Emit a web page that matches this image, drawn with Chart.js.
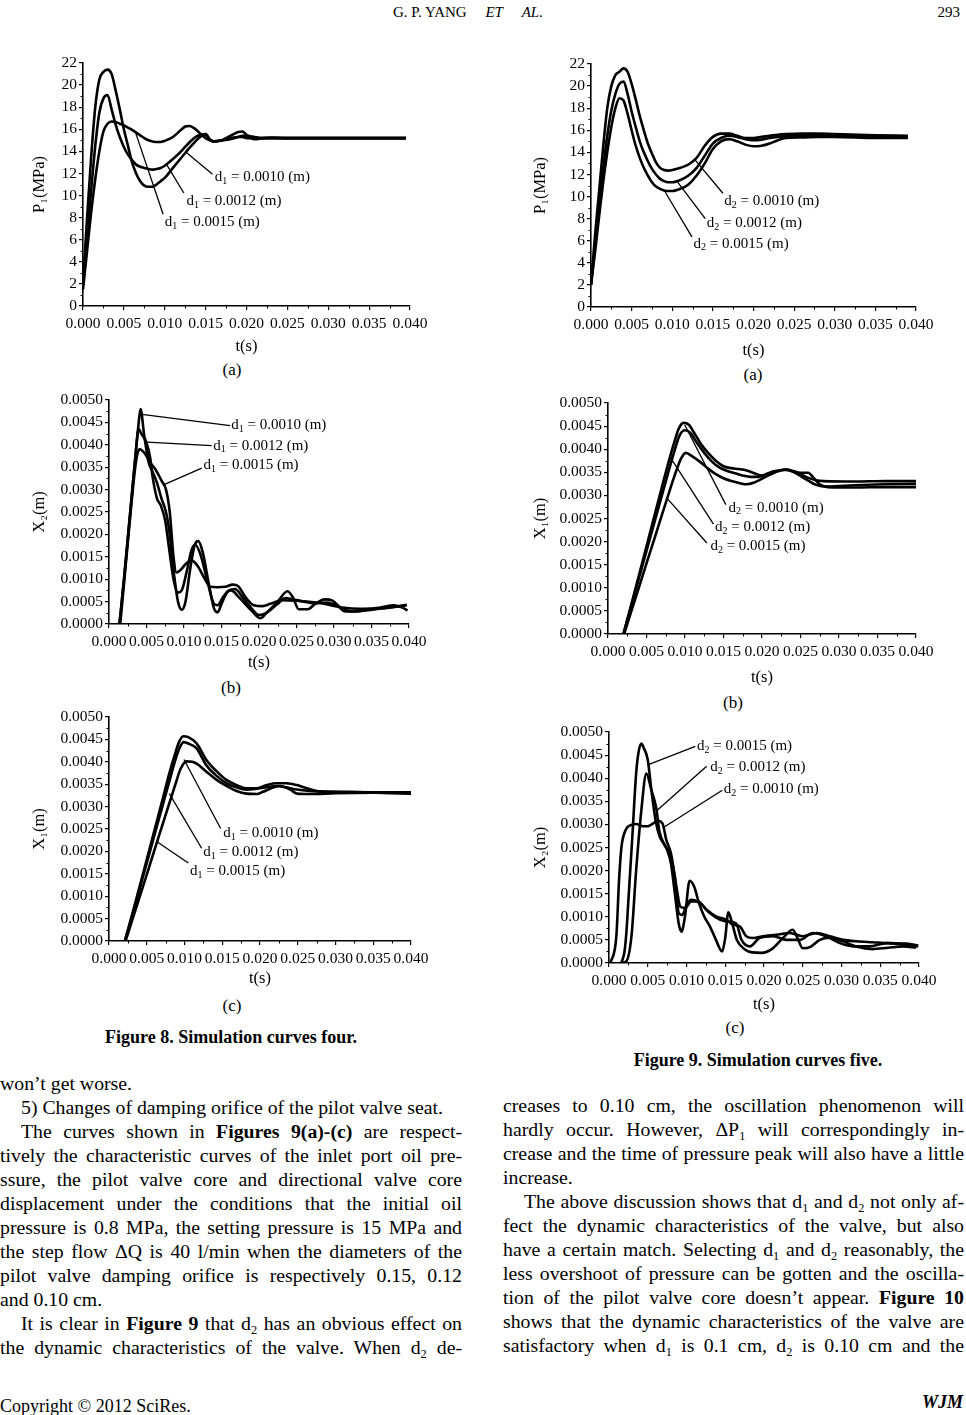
<!DOCTYPE html>
<html><head><meta charset="utf-8">
<script src="https://cdn.jsdelivr.net/npm/chart.js@4.4.1/dist/chart.umd.min.js"></script>
<style>
html,body{margin:0;padding:0;background:#fff;}
body{width:966px;height:1415px;position:relative;overflow:hidden;font-family:'Liberation Serif','Times New Roman',serif;color:#000;}
canvas.ch{position:absolute;}
.abs{position:absolute;white-space:nowrap;line-height:1.15;}
.ctr{transform:translate(-50%,-50%);}
.sl{font-size:17px;}
.cap{font-size:18px;font-weight:bold;}
.col{position:absolute;font-size:19.8px;line-height:24px;}
.ln{height:24px;white-space:nowrap;}
.j{text-align:justify;text-align-last:justify;}
.ind{padding-left:21px;}
sub{font-size:0.62em;vertical-align:-0.3em;line-height:0;}
</style></head>
<body>
<div class="abs" style="left:393px;top:4px;font-size:15px;">G. P. YANG&nbsp;&nbsp;&nbsp;&nbsp; <i>ET</i>&nbsp;&nbsp;&nbsp;&nbsp; <i>AL.</i></div>
<div class="abs" style="right:6px;top:4px;font-size:15px;">293</div>

<canvas id="c8a" class="ch"></canvas>
<canvas id="c9a" class="ch"></canvas>
<canvas id="c8b" class="ch"></canvas>
<canvas id="c9b" class="ch"></canvas>
<canvas id="c8c" class="ch"></canvas>
<canvas id="c9c" class="ch"></canvas>

<div class="abs ctr sl" style="left:232px;top:370px;">(a)</div>
<div class="abs ctr sl" style="left:753px;top:375px;">(a)</div>
<div class="abs ctr sl" style="left:231px;top:688px;">(b)</div>
<div class="abs ctr sl" style="left:733px;top:703px;">(b)</div>
<div class="abs ctr sl" style="left:232px;top:1006px;">(c)</div>
<div class="abs ctr sl" style="left:735px;top:1028px;">(c)</div>
<div class="abs ctr cap" style="left:231px;top:1037px;">Figure 8. Simulation curves four.</div>
<div class="abs ctr cap" style="left:758px;top:1060px;">Figure 9. Simulation curves five.</div>

<div class="col" style="left:0;top:1071px;width:462px;">
<div class="ln">won’t get worse.</div>
<div class="ln ind">5) Changes of damping orifice of the pilot valve seat.</div>
<div class="ln ind j">The curves shown in <b>Figures 9(a)-(c)</b> are respect-</div>
<div class="ln j">tively the characteristic curves of the inlet port oil pre-</div>
<div class="ln j">ssure, the pilot valve core and directional valve core</div>
<div class="ln j">displacement under the conditions that the initial oil</div>
<div class="ln j">pressure is 0.8 MPa, the setting pressure is 15 MPa and</div>
<div class="ln j">the step flow ΔQ is 40 l/min when the diameters of the</div>
<div class="ln j">pilot valve damping orifice is respectively 0.15, 0.12</div>
<div class="ln">and 0.10 cm.</div>
<div class="ln ind j">It is clear in <b>Figure 9</b> that d<sub>2</sub> has an obvious effect on</div>
<div class="ln j">the dynamic characteristics of the valve. When d<sub>2</sub> de-</div>
</div>

<div class="col" style="left:503px;top:1093px;width:461px;">
<div class="ln j">creases to 0.10 cm, the oscillation phenomenon will</div>
<div class="ln j">hardly occur. However, ΔP<sub>1</sub> will correspondingly in-</div>
<div class="ln j">crease and the time of pressure peak will also have a little</div>
<div class="ln">increase.</div>
<div class="ln ind j">The above discussion shows that d<sub>1</sub> and d<sub>2</sub> not only af-</div>
<div class="ln j">fect the dynamic characteristics of the valve, but also</div>
<div class="ln j">have a certain match. Selecting d<sub>1</sub> and d<sub>2</sub> reasonably, the</div>
<div class="ln j">less overshoot of pressure can be gotten and the oscilla-</div>
<div class="ln j">tion of the pilot valve core doesn’t appear. <b>Figure 10</b></div>
<div class="ln j">shows that the dynamic characteristics of the valve are</div>
<div class="ln j">satisfactory when d<sub>1</sub> is 0.1 cm, d<sub>2</sub> is 0.10 cm and the</div>
</div>

<div class="abs" style="left:0;top:1396px;font-size:18px;">Copyright © 2012 SciRes.</div>
<div class="abs" style="right:3px;top:1392px;font-size:18px;font-weight:bold;font-style:italic;">WJM</div>

<script>
// ---------------- axis ticks ----------------
const tAxisTicks = [0, 0.005, 0.010, 0.015, 0.020, 0.025, 0.030, 0.035, 0.040];
const pAxisTicks = [0, 2, 4, 6, 8, 10, 12, 14, 16, 18, 20, 22];
const xAxisTicks = [0, 0.0005, 0.0010, 0.0015, 0.0020, 0.0025, 0.0030, 0.0035, 0.0040, 0.0045, 0.0050];

// ---------------- Figure 8(a): P1 (MPa) vs t (ms) ----------------
const f8a_t = [0, 0.5, 1, 1.5, 2, 2.5, 3, 3.5, 4, 4.5, 5, 5.5, 6, 6.5, 7, 7.5, 8, 8.5, 9, 9.5, 10, 11, 12, 12.5, 13, 13.5, 14, 14.5, 15, 15.5, 16, 17, 18, 19, 19.5, 20, 21, 22, 23, 25, 30, 35, 39.5];
const f8a_d0010 = [2.0, 8, 13.5, 18, 20.5, 21.2, 21.4, 21.0, 19.5, 17.8, 16.0, 14.5, 13.0, 12.0, 11.3, 10.9, 10.8, 10.8, 11.0, 11.3, 11.6, 12.5, 13.4, 13.85, 14.3, 14.7, 15.1, 15.4, 15.6, 15.1, 14.9, 15.0, 15.2, 15.3, 15.3, 15.2, 15.2, 15.2, 15.2, 15.2, 15.2, 15.2, 15.2];
const f8a_d0012 = [2.0, 6.5, 10.5, 14.5, 17.5, 18.8, 19.1, 17.8, 16.4, 15.3, 14.4, 13.7, 13.2, 12.8, 12.6, 12.5, 12.4, 12.35, 12.4, 12.5, 12.7, 13.3, 14.0, 14.4, 14.8, 15.15, 15.4, 15.55, 15.5, 15.1, 14.9, 15.0, 15.1, 15.3, 15.4, 15.4, 15.3, 15.2, 15.2, 15.2, 15.2, 15.2, 15.2];
const f8a_d0015 = [1.5, 5, 8.5, 11.5, 14.0, 15.8, 16.5, 16.7, 16.65, 16.5, 16.35, 16.15, 15.95, 15.7, 15.45, 15.2, 15.0, 14.9, 14.85, 14.85, 14.95, 15.3, 15.95, 16.25, 16.3, 16.15, 15.85, 15.5, 15.2, 15.0, 14.9, 15.0, 15.4, 15.75, 15.8, 15.5, 15.1, 15.2, 15.25, 15.2, 15.2, 15.2, 15.2];
// leader notes: [sub, value, t1, v1, t2, v2, textT, textV]
const f8a_notes = [
  ['1', '0.0010', 12.65, 13.9, 15.84, 11.92, 16.12, 11.68],
  ['1', '0.0012', 10.2, 12.85, 12.33, 10.23, 12.65, 9.5],
  ['1', '0.0015', 6.45, 15.65, 9.8, 8.3, 10.0, 7.6]
];

// ---------------- Figure 9(a): P1 (MPa) vs t (ms) ----------------
const f9a_t = [0, 0.5, 1, 1.5, 2, 2.5, 3, 3.5, 4, 4.5, 5, 5.5, 6, 6.5, 7, 7.5, 8, 8.5, 9, 9.5, 10, 11, 12, 13, 14, 15, 16, 17, 18, 19, 20, 21, 22, 23, 24, 26, 28, 30, 35, 39];
const f9a_d0010 = [2.0, 6.5, 10.5, 14.5, 18.0, 20.0, 21.0, 21.3, 21.6, 21.3, 20.2, 18.8, 17.3, 16.0, 14.8, 13.9, 13.1, 12.6, 12.4, 12.35, 12.4, 12.6, 12.9, 13.5, 14.6, 15.4, 15.7, 15.7, 15.5, 15.3, 15.3, 15.4, 15.5, 15.6, 15.65, 15.7, 15.7, 15.65, 15.55, 15.5];
const f9a_d0012 = [2.0, 5.5, 9.0, 12.5, 15.5, 17.8, 19.3, 20.2, 20.4, 19.3, 17.7, 16.3, 15.0, 14.0, 13.2, 12.5, 12.0, 11.6, 11.4, 11.3, 11.3, 11.5, 11.9, 12.6, 13.7, 14.8, 15.3, 15.5, 15.4, 15.2, 15.1, 15.15, 15.3, 15.4, 15.45, 15.5, 15.5, 15.5, 15.45, 15.4];
const f9a_d0015 = [2.0, 5.0, 8.2, 11.3, 14.0, 16.3, 18.0, 18.9, 18.7, 17.5, 16.0, 14.6, 13.5, 12.6, 11.9, 11.3, 10.9, 10.7, 10.55, 10.5, 10.5, 10.7, 11.1, 11.9, 13.0, 14.3, 15.0, 15.2, 15.0, 14.7, 14.55, 14.6, 14.8, 15.1, 15.3, 15.35, 15.4, 15.4, 15.3, 15.3];
const f9a_notes = [
  ['2', '0.0010', 12.83, 13.3, 16.23, 10.3, 16.39, 9.6],
  ['2', '0.0012', 10.57, 11.4, 14.06, 8.0, 14.26, 7.6],
  ['2', '0.0015', 9.02, 10.55, 12.42, 6.35, 12.62, 5.74]
];

// ---------------- Figure 8(b): X2 (x1e-4 m) vs t (ms) ----------------
const f8b_t0010 = [1.4, 2.0, 2.5, 3.0, 3.5, 3.9, 4.2, 4.7, 5.3, 5.8, 6.4, 7.0, 7.6, 8.1, 8.6, 9.2, 9.7, 10.2, 10.8, 11.4, 11.9, 12.5, 13.3, 14.0, 14.5, 15.0, 15.8, 16.3, 17.3, 19.0, 20.2, 21.0, 22.5, 23.8, 24.5, 25.3, 26.5, 27.5, 28.8, 29.8, 31.0, 32.5, 34.0, 36.0, 38.0, 39.7];
const f8b_v0010 = [0, 10, 19, 28, 37, 44, 48, 42, 36, 34, 31.5, 28, 25, 20, 12, 5, 3.2, 5, 12, 17.5, 18.5, 16, 9, 3.5, 2.6, 4.5, 7.2, 7.5, 6, 3, 1.3, 2.5, 5, 7.3, 6, 3.3, 3.3, 4.5, 5.5, 5.2, 3.5, 2.8, 3.0, 3.4, 3.8, 4.3];
const f8b_t0012 = [1.4, 2.0, 2.5, 3.0, 3.5, 3.95, 4.3, 5.0, 5.5, 5.8, 6.4, 6.9, 7.5, 8.0, 8.6, 9.2, 9.7, 10.4, 11.0, 11.5, 12.2, 13.2, 14.0, 14.5, 15.2, 16.0, 16.8, 17.8, 19.0, 20.0, 21.0, 22.5, 23.5, 24.5, 26.0, 27.5, 29.0, 30.5, 31.5, 33.0, 35.0, 37.0, 39.7];
const f8b_v0012 = [0, 10, 19, 28, 37, 43.5, 42.5, 40.5, 37, 33, 28, 26.5, 23, 17, 10, 7, 7.5, 12, 16.5, 17.7, 15.5, 9, 4.5, 4.2, 6, 7.5, 7.8, 6, 3.5, 2.0, 2.5, 4.5, 5.8, 5.5, 5.0, 4.6, 4.8, 4.0, 2.8, 2.8, 3.3, 3.6, 4.2];
const f8b_t0015 = [1.5, 2.0, 2.5, 3.0, 3.5, 3.8, 4.1, 4.8, 5.5, 6.2, 7.0, 7.6, 8.1, 8.6, 9.0, 9.5, 10.3, 11.0, 11.8, 12.8, 13.5, 14.5, 15.5, 16.5, 17.2, 18.2, 19.3, 20.5, 21.5, 23.0, 25.0, 27.0, 28.5, 30.0, 32.0, 34.0, 36.0, 38.0, 39.2, 39.8];
const f8b_v0015 = [0, 9, 18, 27, 35, 38, 39, 38, 36, 34.5, 32, 30, 25, 15, 11.5, 12, 13.5, 14.2, 13, 10, 8.3, 8.2, 8.3, 8.8, 8.5, 6, 4.2, 4.0, 4.5, 5.3, 5.2, 4.9, 4.6, 4.0, 3.5, 3.4, 3.6, 4.2, 3.6, 3.0];
const f8b_notes = [
  ['1', '0.0010', 4.39, 46.8, 16.14, 44.3, 16.3, 44.3],
  ['1', '0.0012', 5.06, 40.6, 13.7, 39.8, 13.9, 39.8],
  ['1', '0.0015', 7.27, 31.05, 12.37, 34.8, 12.6, 35.4]
];

// ---------------- Figure 9(b): X1 (x1e-4 m) vs t (ms) ----------------
const f9b_t0010 = [2.0, 3, 4, 5, 6, 7, 8, 8.7, 9.2, 9.8, 10.5, 11.2, 12, 13, 14, 15, 16, 17, 18, 19, 20, 21, 22, 23, 24, 25, 26, 26.7, 27.5, 28.5, 32, 36, 40];
const f9b_v0010 = [0, 6.2, 12.6, 19, 25.4, 31.8, 38, 42, 44.5, 45.7, 45.3, 43.5, 41.3, 39.2, 37.5, 36.3, 35.9, 35.7, 35.4, 34.8, 34.3, 34.5, 35.2, 35.6, 35.3, 34.9, 34.9, 33.8, 32.4, 31.8, 31.7, 31.8, 31.8];
const f9b_t0012 = [2.0, 3, 4, 5, 6, 7, 8, 8.7, 9.3, 10, 10.7, 11.5, 12.5, 13.5, 14.5, 15.5, 16.5, 17.5, 18.5, 19.5, 20.5, 21.5, 22.5, 23.3, 24.2, 25, 26, 27, 28.5, 32, 36, 40];
const f9b_v0012 = [0, 6, 12, 18, 24, 30, 36, 40, 43, 44.1, 43.5, 41.5, 39.2, 37.3, 36.0, 35.3, 34.8, 34.3, 34.0, 34.0, 34.6, 35.2, 35.5, 35.6, 35.0, 34.2, 33.2, 32.3, 31.9, 32.2, 32.4, 32.5];
const f9b_t0015 = [2.1, 3, 4, 5, 6, 7, 8, 8.8, 9.5, 10.1, 11, 12, 13, 14, 15, 16, 17, 18, 19, 20, 21, 22, 23, 24, 25, 26, 27, 28, 32, 36, 40];
const f9b_v0015 = [0, 4.8, 10, 15.3, 20.5, 25.8, 31, 35, 38, 39.2, 38.4, 37.2, 35.8, 34.6, 33.7, 33.1, 32.7, 32.4, 32.8, 33.6, 34.5, 35.2, 35.5, 35.2, 34.6, 33.8, 33.3, 33.1, 33.0, 33.1, 33.1];
const f9b_notes = [
  ['2', '0.0010', 9.95, 45.3, 15.3, 28.0, 15.65, 27.3],
  ['2', '0.0012', 8.3, 37.7, 13.7, 23.8, 13.9, 23.1],
  ['2', '0.0015', 7.65, 29.4, 12.84, 19.7, 13.3, 19.0]
];

// ---------------- Figure 8(c): X1 (x1e-4 m) vs t (ms) ----------------
const f8c_t0010 = [2.1, 3, 4, 5, 6, 7, 8, 8.7, 9.3, 9.85, 10.5, 11.6, 12.9, 14.3, 15.6, 16.9, 18.2, 19.6, 20.9, 22.2, 23.5, 24.9, 26.2, 27.5, 29.3, 33.7, 40];
const f8c_v0010 = [0, 5.5, 11.8, 18.2, 24.6, 31, 37.5, 41.5, 44.5, 45.7, 45.5, 44.1, 40.4, 37.8, 35.9, 34.8, 34.1, 34.1, 34.8, 35.2, 35.2, 34.8, 34.1, 33.5, 33.3, 33.2, 32.9];
const f8c_t0012 = [2.1, 3, 4, 5, 6, 7, 8, 8.8, 9.4, 9.9, 10.6, 11.6, 12.9, 14.3, 15.6, 16.9, 18.2, 19.6, 20.9, 22.2, 23.5, 24.9, 26.6, 30, 35, 40];
const f8c_v0012 = [0, 5.3, 11.3, 17.4, 23.5, 29.6, 35.7, 40.5, 43.3, 44.4, 44, 43.0, 39.2, 36.8, 35.2, 34.3, 33.8, 34.0, 34.3, 34.6, 34.3, 33.8, 33.5, 33.3, 33.2, 33.2];
const f8c_t0015 = [2.2, 3, 4, 5, 6, 7, 8, 8.8, 9.5, 10.3, 11, 11.6, 12.9, 14.3, 15.6, 16.9, 18.2, 19.6, 20.4, 21.8, 22.6, 24.0, 24.9, 26.6, 30, 35, 40];
const f8c_v0015 = [0, 4.3, 9.5, 14.8, 20.2, 25.5, 30.8, 35, 38.5, 40.1, 40, 39.6, 37.8, 35.9, 34.6, 33.5, 32.9, 32.8, 33.3, 34.3, 34.6, 33.8, 32.9, 32.8, 33.0, 33.1, 33.0];
const f8c_notes = [
  ['1', '0.0010', 9.93, 40.5, 14.79, 25.1, 15.14, 24.0],
  ['1', '0.0012', 7.99, 32.9, 12.27, 20.7, 12.49, 19.8],
  ['1', '0.0015', 6.31, 22.2, 10.51, 17.4, 10.73, 15.5]
];

// ---------------- Figure 9(c): X2 (x1e-4 m) vs t (ms) ----------------
const f9c_t0015 = [1.6, 2.0, 2.24, 2.5, 3.0, 3.5, 3.8, 4.17, 4.5, 5.0, 5.5, 6.0, 6.5, 7.0, 7.5, 8.0, 8.5, 9.0, 9.35, 9.8, 10.4, 11.0, 11.6, 12.3, 13.0, 13.8, 14.6, 15.0, 15.4, 15.9, 16.5, 17.5, 18.5, 19.7, 21.0, 22.5, 23.7, 24.3, 25.0, 26.0, 27.2, 28.5, 30, 32, 34, 36, 38, 39.6];
const f9c_v0015 = [0, 2.5, 6.5, 13.5, 27, 41, 45.5, 47.5, 46.5, 44, 37, 31, 27.5, 26, 24.5, 21.5, 15, 8.5, 6.8, 10, 17.8, 16.5, 13, 10, 8, 5, 2.5, 5.5, 11, 8.5, 5, 3, 2.3, 2.2, 3, 5.5, 7.2, 5.5, 3.2, 3.5, 5, 5.5, 4.8, 3.5, 3.0, 3.3, 3.6, 3.3];
const f9c_t0012 = [1.4, 2.2, 2.9, 3.5, 4.17, 4.82, 5.46, 6.1, 6.5, 7.2, 7.8, 8.5, 9.0, 9.46, 10.0, 10.6, 11.7, 13.0, 14.3, 15.1, 16.4, 17.1, 18.2, 19.4, 21.2, 22.9, 24.6, 26.3, 28.0, 29.8, 31.5, 33.6, 35.8, 37.9, 39.9];
const f9c_v0012 = [0, 0.3, 5.8, 20, 33, 41, 37.5, 33.5, 28.5, 25.5, 23.7, 18.7, 10.8, 10.4, 12.6, 13.7, 13, 10.8, 9.4, 9.0, 8.6, 5, 3.6, 5.4, 5.8, 5, 5, 6.5, 5.8, 4.3, 3.6, 3.6, 4.3, 4.0, 3.6];
const f9c_t0010 = [0.2, 0.95, 1.3, 1.6, 2.15, 2.9, 3.5, 4.4, 5.0, 5.7, 6.3, 6.9, 7.4, 8.0, 8.7, 9.2, 9.8, 10.6, 11.5, 12.6, 13.8, 15.1, 16.0, 16.9, 17.7, 18.6, 19.9, 21.6, 23.3, 25.0, 26.8, 28.5, 30.2, 31.9, 34.0, 36.2, 38.4, 39.9];
const f9c_v0010 = [0, 5.8, 18, 25, 28.8, 29.9, 30.1, 29.6, 29.6, 30.2, 30.8, 30.2, 26.6, 23.7, 16.5, 12.2, 11.9, 13.3, 13.3, 11.5, 10.1, 9.4, 8.3, 7.9, 5.8, 5.4, 5.8, 6.1, 6.5, 5.8, 6.5, 5.8, 5.0, 4.7, 4.5, 4.3, 4.2, 3.8];
const f9c_notes = [
  ['2', '0.0015', 5.16, 43.0, 11.14, 46.9, 11.35, 46.9],
  ['2', '0.0012', 6.19, 33.0, 12.6, 42.6, 13.08, 42.4],
  ['2', '0.0010', 7.18, 29.5, 14.62, 37.4, 14.8, 37.6]
];

// ---------------- layout (page pixels) ----------------
const LAY = {
  c8a: {left: 30, plotL: 83, plotR: 410, plotT: 63, plotB: 306, xAxisH: 51},
  c9a: {left: 531, plotL: 591, plotR: 916, plotT: 64, plotB: 307, xAxisH: 54},
  c8b: {left: 30, plotL: 109, plotR: 409, plotT: 400, plotB: 624, xAxisH: 49},
  c9b: {left: 531, plotL: 608, plotR: 916, plotT: 403, plotB: 634, xAxisH: 54},
  c8c: {left: 30, plotL: 109, plotR: 411, plotT: 717, plotB: 941, xAxisH: 48},
  c9c: {left: 531, plotL: 609, plotR: 919, plotT: 732, plotB: 963, xAxisH: 52}
};

const FONT = "'Liberation Serif','Times New Roman',serif";
Chart.defaults.font.family = FONT;
Chart.defaults.color = '#000';

function pts(t, v, k) { return t.map((ti, i) => ({x: ti / 1000, y: v[i] * k})); }

const minorTicks = {
  id: 'minorTicks',
  afterDraw(chart) {
    const {ctx} = chart; const xs = chart.scales.x, ys = chart.scales.y;
    const xt = xs.ticks.map(t => t.value), yt = ys.ticks.map(t => t.value);
    ctx.save(); ctx.strokeStyle = '#000'; ctx.lineWidth = 1; ctx.beginPath();
    for (let i = 0; i < xt.length - 1; i++) {
      const p = Math.round(xs.getPixelForValue((xt[i] + xt[i + 1]) / 2)) + 0.5;
      ctx.moveTo(p, xs.top); ctx.lineTo(p, xs.top + 2.5);
    }
    for (let i = 0; i < yt.length - 1; i++) {
      const p = Math.round(ys.getPixelForValue((yt[i] + yt[i + 1]) / 2)) + 0.5;
      ctx.moveTo(ys.right, p); ctx.lineTo(ys.right - 2.5, p);
    }
    ctx.stroke(); ctx.restore();
  }
};

function notesPlugin(notes, k) {
  return {
    id: 'notes',
    afterDraw(chart) {
      const {ctx} = chart; const xs = chart.scales.x, ys = chart.scales.y;
      const px = t => xs.getPixelForValue(t / 1000), py = v => ys.getPixelForValue(v * k);
      ctx.save(); ctx.strokeStyle = '#000'; ctx.fillStyle = '#000'; ctx.lineWidth = 1.3;
      notes.forEach(n => {
        const [sub, val, t1, v1, t2, v2, tt, tv] = n;
        ctx.beginPath(); ctx.moveTo(px(t1), py(v1)); ctx.lineTo(px(t2), py(v2)); ctx.stroke();
        let x = px(tt); const y = py(tv);
        ctx.textBaseline = 'middle'; ctx.textAlign = 'left';
        ctx.font = '15px ' + FONT; ctx.fillText('d', x, y); x += ctx.measureText('d').width;
        ctx.font = '10px ' + FONT; ctx.fillText(sub, x, y + 4); x += ctx.measureText(sub).width;
        ctx.font = '15px ' + FONT; ctx.fillText(' = ' + val + ' (m)', x, y);
      });
      ctx.restore();
    }
  };
}

function makeChart(id, yTicks, yDec, yTitle, k, series, notes) {
  const L = LAY[id];
  const padTop = 12, padRight = 26;
  const cv = document.getElementById(id);
  const w = L.plotR - L.left + padRight;
  const h = padTop + (L.plotB - L.plotT) + L.xAxisH;
  cv.width = w; cv.height = h;
  cv.style.left = L.left + 'px'; cv.style.top = (L.plotT - padTop) + 'px';
  cv.style.width = w + 'px'; cv.style.height = h + 'px';
  new Chart(cv, {
    type: 'line',
    data: {
      datasets: series.map(s => ({
        label: s[2], data: pts(s[0], s[1], k),
        borderColor: '#000', borderWidth: 2.6, pointRadius: 0, fill: false,
        cubicInterpolationMode: 'monotone'
      }))
    },
    options: {
      responsive: false, animation: false, devicePixelRatio: 1,
      layout: {padding: {top: padTop, right: padRight, left: 0, bottom: 0}},
      plugins: {legend: {display: false}, tooltip: {enabled: false}},
      scales: {
        x: {
          type: 'linear', min: tAxisTicks[0], max: tAxisTicks[tAxisTicks.length - 1],
          afterBuildTicks: s => { s.ticks = tAxisTicks.map(v => ({value: v})); },
          afterFit: s => { s.height = L.xAxisH; },
          ticks: {callback: v => Number(v).toFixed(3), autoSkip: false, maxRotation: 0, minRotation: 0, padding: 5, font: {size: 15.5}, color: '#000'},
          grid: {drawOnChartArea: false, drawTicks: true, tickLength: 4, color: '#000', lineWidth: 1.2},
          border: {display: true, color: '#000', width: 1.6},
          title: {display: true, text: 't(s)', padding: 0, font: {size: 16.5}, color: '#000'}
        },
        y: {
          type: 'linear', min: yTicks[0], max: yTicks[yTicks.length - 1],
          afterBuildTicks: s => { s.ticks = yTicks.map(v => ({value: v})); },
          afterFit: s => { s.width = L.plotL - L.left; },
          ticks: {callback: v => Number(v).toFixed(yDec), autoSkip: false, padding: 2, font: {size: 15.5}, color: '#000'},
          grid: {drawOnChartArea: false, drawTicks: true, tickLength: 4, color: '#000', lineWidth: 1.2},
          border: {display: true, color: '#000', width: 1.6},
          title: {display: true, text: yTitle, padding: 0, font: {size: 16.5}, color: '#000'}
        }
      }
    },
    plugins: [minorTicks, notesPlugin(notes, k)]
  });
}

makeChart('c8a', pAxisTicks, 0, 'P₁(MPa)', 1, [
  [f8a_t, f8a_d0010, 'd₁ = 0.0010 (m)'],
  [f8a_t, f8a_d0012, 'd₁ = 0.0012 (m)'],
  [f8a_t, f8a_d0015, 'd₁ = 0.0015 (m)']
], f8a_notes);

makeChart('c9a', pAxisTicks, 0, 'P₁(MPa)', 1, [
  [f9a_t, f9a_d0010, 'd₂ = 0.0010 (m)'],
  [f9a_t, f9a_d0012, 'd₂ = 0.0012 (m)'],
  [f9a_t, f9a_d0015, 'd₂ = 0.0015 (m)']
], f9a_notes);

makeChart('c8b', xAxisTicks, 4, 'X₂(m)', 1e-4, [
  [f8b_t0010, f8b_v0010, 'd₁ = 0.0010 (m)'],
  [f8b_t0012, f8b_v0012, 'd₁ = 0.0012 (m)'],
  [f8b_t0015, f8b_v0015, 'd₁ = 0.0015 (m)']
], f8b_notes);

makeChart('c9b', xAxisTicks, 4, 'X₁(m)', 1e-4, [
  [f9b_t0010, f9b_v0010, 'd₂ = 0.0010 (m)'],
  [f9b_t0012, f9b_v0012, 'd₂ = 0.0012 (m)'],
  [f9b_t0015, f9b_v0015, 'd₂ = 0.0015 (m)']
], f9b_notes);

makeChart('c8c', xAxisTicks, 4, 'X₁(m)', 1e-4, [
  [f8c_t0010, f8c_v0010, 'd₁ = 0.0010 (m)'],
  [f8c_t0012, f8c_v0012, 'd₁ = 0.0012 (m)'],
  [f8c_t0015, f8c_v0015, 'd₁ = 0.0015 (m)']
], f8c_notes);

makeChart('c9c', xAxisTicks, 4, 'X₂(m)', 1e-4, [
  [f9c_t0015, f9c_v0015, 'd₂ = 0.0015 (m)'],
  [f9c_t0012, f9c_v0012, 'd₂ = 0.0012 (m)'],
  [f9c_t0010, f9c_v0010, 'd₂ = 0.0010 (m)']
], f9c_notes);
</script>
</body></html>
